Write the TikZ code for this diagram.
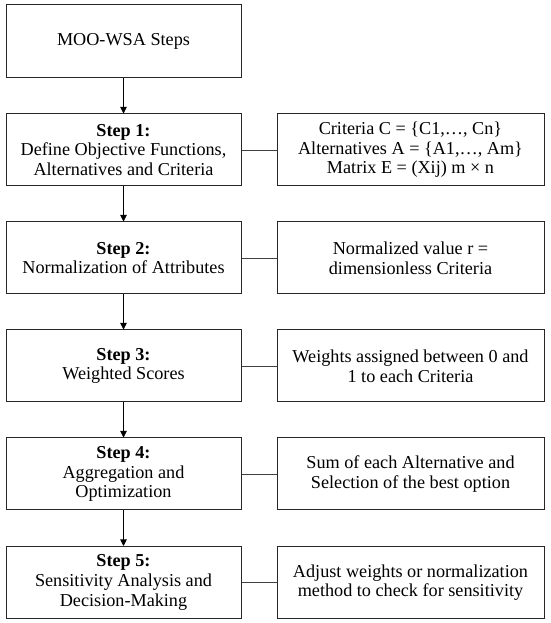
\documentclass[tikz,border=0pt]{standalone}
\usepackage{fontspec}
\setmainfont{Liberation Serif}
\usetikzlibrary{arrows.meta}
\begin{document}
\begin{tikzpicture}[x=1pt,y=1pt,
  box/.style={draw=black!85, line width=1pt, inner sep=0pt, align=center,
    font=\fontsize{18.2}{19.6}\selectfont},
  lbox/.style={box, minimum width=235pt, minimum height=72pt},
  rbox/.style={box, minimum width=267pt, minimum height=72pt},
  flow/.style={draw=black, line width=0.9pt, -{Triangle[width=6.5pt,length=6.5pt]}},
  link/.style={draw=black!75, line width=0.9pt}]
\useasboundingbox (0,0) rectangle (550,623);
\node[lbox, minimum height=73pt] (top) at (123.5,581.5) {MOO-WSA Steps};
\node[lbox] (s1) at (123.5,473) {\textbf{Step 1:}\\Define Objective Functions,\\Alternatives and Criteria};
\node[lbox] (s2) at (123.5,365) {\textbf{Step 2:}\\Normalization of Attributes};
\node[lbox] (s3) at (123.5,257) {\textbf{Step 3:}\\Weighted Scores};
\node[lbox] (s4) at (123.5,149) {\textbf{Step 4:}\\Aggregation and\\Optimization};
\node[lbox] (s5) at (123.5,40.5) {\textbf{Step 5:}\\Sensitivity Analysis and\\Decision-Making};
\node[rbox] (r1) at (410.5,473) {Criteria C = \{C1,…, Cn\}\\Alternatives A = \{A1,…, Am\}\\Matrix E = (Xij) m × n};
\node[rbox] (r2) at (410.5,365) {Normalized value r =\\dimensionless Criteria};
\node[rbox] (r3) at (410.5,257) {Weights assigned between 0 and\\1 to each Criteria};
\node[rbox] (r4) at (410.5,149) {Sum of each Alternative and\\Selection of the best option};
\node[rbox] (r5) at (410.5,40.5) {Adjust weights or normalization\\method to check for sensitivity};
\draw[flow] (top) -- (s1);
\draw[flow] (s1) -- (s2);
\draw[flow] (s2) -- (s3);
\draw[flow] (s3) -- (s4);
\draw[flow] (s4) -- (s5);
\draw[link] (s1) -- (r1);
\draw[link] (s2) -- (r2);
\draw[link] (s3) -- (r3);
\draw[link] (s4) -- (r4);
\draw[link] (s5) -- (r5);
\end{tikzpicture}
\end{document}
